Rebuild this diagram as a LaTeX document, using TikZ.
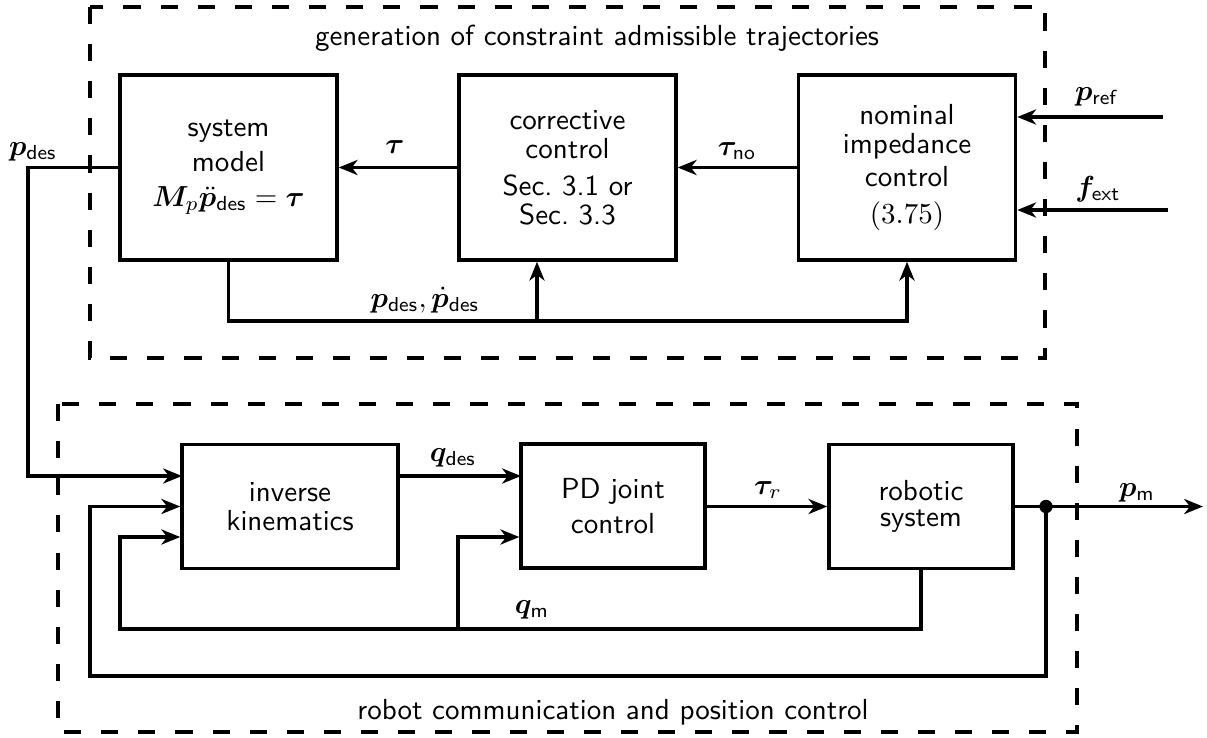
\documentclass[tikz,border=0pt]{standalone}
\usepackage{amsmath}
\usepackage{bm}
\usetikzlibrary{arrows.meta,calc}
\renewcommand\familydefault{\sfdefault}
\begin{document}
\begin{tikzpicture}[x=0.3448pt,y=-0.3448pt,line width=1.2pt,
  blk/.style={draw,line width=1.2pt,align=center,inner sep=0pt},
  topblk/.style={blk,minimum width=74.8pt,minimum height=63.8pt},
  botblk/.style={blk,minimum height=42.8pt},
  arr/.style={-{Stealth[length=6.5pt,width=5.2pt,inset=2pt]}},
  grp/.style={draw,line width=1.2pt,dash pattern=on 5.9pt off 6.9pt},
  lbl/.style={inner sep=0pt}]
\useasboundingbox (0,0) rectangle (1207,737);
% groups
\draw[grp] (90,7) rectangle (1045,358);
\draw[grp] (58,404) rectangle (1077,732);
\node[lbl] (gtop) at (597,38) {generation of constraint admissible trajectories};
\node[lbl] (gbot) at (613,712) {robot communication and position control};
% top blocks
\node[topblk] (sys) at (228.5,167.5) {system\\model\\$\bm{M}_p\ddot{\bm{p}}_{\mathsf{des}}=\bm{\tau}$};
\node[topblk,font=\fontsize{10pt}{10pt}\selectfont] (corr) at (567.5,167.5) {corrective\\control\\[2.8pt]Sec.~3.1 or\\Sec.~3.3};
\node[topblk,font=\fontsize{10pt}{10pt}\selectfont] (nom) at (907,167.5) {nominal\\impedance\\[1.5pt]control\\[2.5pt]$(3.75)$};
% bottom blocks
\node[botblk,minimum width=74.5pt] (ik) at (290,506.5) {inverse\\[-2pt]kinematics};
\node[botblk,minimum width=63.4pt] (pd) at (613,506) {PD joint\\control};
\node[botblk,minimum width=63.4pt] (rob) at (921,506.5) {robotic\\[-3pt]system};
% coordinates
\coordinate (pref) at (1163,117);
\coordinate (fext) at (1168,210);
\coordinate (fbL) at (228.5,321);
\coordinate (fbM) at (537,321);
\coordinate (fbR) at (907,321);
\coordinate (pdB) at (28,476);
\coordinate (ikA) at (182,476);
\coordinate (pdinA) at (521,476);
\coordinate (junc) at (1046,506.5);
\coordinate (pmout) at (1203,506.5);
\coordinate (qmR) at (921,629);
\coordinate (qmL) at (120,629);
\coordinate (qmM) at (458,629);
\coordinate (qmIn) at (0,537);
\coordinate (pmB) at (1046,676);
\coordinate (pmL) at (90,676);
% top connectors
\draw[arr] (pref) -- (pref -| nom.east);
\draw[arr] (fext) -- (fext -| nom.east);
\draw[arr] (nom.west) -- (corr.east);
\draw[arr] (corr.west) -- (sys.east);
\draw[arr] (sys.south) -- (fbL) -- (fbR) -- (nom.south);
\draw[arr] (fbM) -- (fbM |- corr.south);
% p_des to inverse kinematics
\draw[arr] (sys.west) -| (pdB) -- (ikA);
% bottom connectors
\draw[arr] (ik.east |- ikA) -- (pdinA);
\draw[arr] (pd.east |- rob.west) -- (rob.west);
\draw (rob.east) -- (junc);
\draw[arr] (junc) -- (pmout);
\fill (junc) circle (2.3pt);
\draw[arr] (rob.south) -- (qmR) -- (qmL) |- (ik.west |- qmIn);
\draw[arr] (qmM) |- (pd.west |- qmIn);
\draw[arr] (junc) -- (pmB) -- (pmL) |- (ik.west);
% labels
\node[lbl] (ltau) at (395,147) {$\bm{\tau}$};
\node[lbl] (ltauno) at (737,151) {$\bm{\tau}_{\mathsf{no}}$};
\node[lbl] (lpref) at (1097,97) {$\bm{p}_{\mathsf{ref}}$};
\node[lbl] (lfext) at (1098,189) {$\bm{f}_{\mathsf{ext}}$};
\node[lbl] (lfb) at (425,300) {$\bm{p}_{\mathsf{des}},\dot{\bm{p}}_{\mathsf{des}}$};
\node[lbl] (lpdes) at (33,152) {$\bm{p}_{\mathsf{des}}$};
\node[lbl] (lqdes) at (453,458) {$\bm{q}_{\mathsf{des}}$};
\node[lbl] (ltaur) at (768,490) {$\bm{\tau}_r$};
\node[lbl] (lpm) at (1137,493) {$\bm{p}_{\mathsf{m}}$};
\node[lbl] (lqm) at (532,610) {$\bm{q}_{\mathsf{m}}$};
\end{tikzpicture}
\end{document}
